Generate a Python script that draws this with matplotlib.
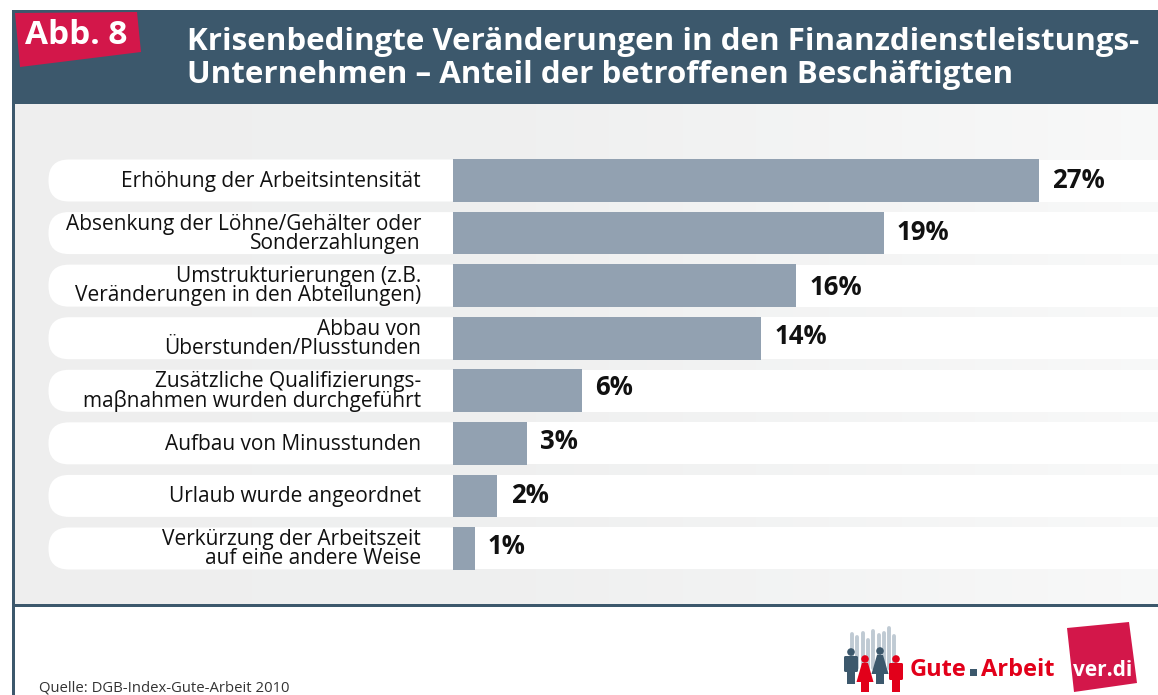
import numpy as np
import matplotlib
matplotlib.use('Agg')
import matplotlib.pyplot as plt
from matplotlib.patches import Polygon, Rectangle, FancyBboxPatch, Circle

plt.rcParams['font.family'] = ['Open Sans', 'DejaVu Sans']

# data
categories = [
    'Erhöhung der Arbeitsintensität',
    'Absenkung der Löhne/Gehälter oder\nSonderzahlungen',
    'Umstrukturierungen (z.B.\nVeränderungen in den Abteilungen)',
    'Abbau von\nÜberstunden/Plusstunden',
    'Zusätzliche Qualifizierungs-\nmaβnahmen wurden durchgeführt',
    'Aufbau von Minusstunden',
    'Urlaub wurde angeordnet',
    'Verkürzung der Arbeitszeit\nauf eine andere Weise',
]
# bar lengths as measured, the printed labels are rounded differently
bar_values = [27, 19.85, 15.8, 14.2, 5.95, 3.4, 2.05, 1.0]
value_labels = ['27%', '19%', '16%', '14%', '6%', '3%', '2%', '1%']
title_lines = ['Krisenbedingte Veränderungen in den Finanzdienstleistungs-',
               'Unternehmen – Anteil der betroffenen Beschäftigten']
badge = 'Abb. 8'
source = 'Quelle: DGB-Index-Gute-Arbeit 2010'

# the printed value labels do not sit exactly on the row centres
label_nudge = [0, -1, 2, -2, -3, -2, 0, -2]

HEADER = '#3c586c'
CRIMSON = '#d3174a'
BAR = '#92a1b1'
LOGO_RED = '#e2001a'

W, H = 1158, 695
fig = plt.figure(figsize=(W / 100, H / 100), dpi=100, facecolor='white')

# overlay in pixel coordinates for the frame, header and logos
bg = fig.add_axes([0, 0, 1, 1], zorder=1)

# panel gets lighter to the right
grey = np.interp(np.arange(12, W), [12, 500, W], [238, 239, 248]) / 255
panel = np.clip(np.dstack([grey, grey + 0.002, grey + 0.002]), 0, 1)
bg.imshow(panel, extent=(12, W, 605, 104), aspect='auto', interpolation='bilinear', zorder=0)
bg.set_xlim(0, W)
bg.set_ylim(H, 0)
bg.axis('off')

bg.add_patch(Rectangle((12, 10), W - 12, 94, color=HEADER, lw=0))
bg.add_patch(Rectangle((12, 10), 2.5, H - 10, color=HEADER, lw=0))
bg.add_patch(Rectangle((12, 604), W - 12, 2.5, color=HEADER, lw=0))

bg.add_patch(Polygon([(15, 13), (137, 12), (141, 52), (20, 67)], color=CRIMSON, lw=0))
bg.text(76, 44.5, badge, color='white', fontsize=24, fontweight='bold', ha='center', va='baseline')
for y, line in zip([50, 83.5], title_lines):
    bg.text(187, y, line, color='white', fontsize=22.5, fontweight='bold', ha='left', va='baseline')

# bars: x scale 21.7 px per percent starting at 453 px, rows 52.57 px apart
n = len(categories)
row = 52.57
top = 180.5 - row / 2
ax = fig.add_axes([453 / W, 1 - (top + n * row) / H, (W - 453) / W, n * row / H], zorder=2)
ax.set_xlim(0, (W - 453) / 21.7)
ax.set_ylim(n - 0.5, -0.5)
ax.axis('off')
ax.patch.set_alpha(0)
ypos = np.arange(n)
ax.barh(ypos, bar_values, height=0.81, color=BAR, lw=0, zorder=3)

for i, (v, lab) in enumerate(zip(bar_values, value_labels)):
    ax.annotate(lab, (v, i), xytext=(9.5, -label_nudge[i] * 0.72), textcoords='offset points', fontsize=18.5,
                fontweight='bold', color='#111111', ha='left', va='center', zorder=4)

for i, cat in enumerate(categories):
    yc = 180.5 + i * row
    # white row, rounded on the left
    bg.add_patch(FancyBboxPatch((69, yc - 0.5), 381, 1,
                                boxstyle='round,pad=20.5,rounding_size=20.5', color='white', lw=0))
    bg.add_patch(Rectangle((453, yc - 21), W - 453, 42, color='white', lw=0))
    bg.text(421, yc + 0.7, cat, fontsize=15, color='#111111', ha='right', va='center',
            multialignment='right', linespacing=0.89)

# source
bg.text(39, 688, source, fontsize=10.7, color='#333333', ha='left', va='center')

# Gute Arbeit logo
for x, y0 in zip([852, 857, 863, 868, 873, 879, 884, 889, 894],
                 [634, 637, 633, 640, 631, 635, 633, 628, 636]):
    bg.plot([x, x], [y0, 668], color='#bfcad3', lw=2.8, solid_capstyle='round', zorder=2)


def person(cx, cy, color, skirt, leg_end):
    bg.add_patch(Circle((cx, cy), 3.8, color=color, lw=0, zorder=3))
    if skirt:
        bg.add_patch(Polygon([(cx - 3, cy + 4), (cx + 3, cy + 4), (cx + 8.5, leg_end - 10), (cx - 8.5, leg_end - 10)],
                             color=color, lw=0, zorder=3))
    else:
        bg.add_patch(FancyBboxPatch((cx - 6, cy + 5), 12, leg_end - cy - 18,
                                    boxstyle='round,pad=1,rounding_size=1.5', color=color, lw=0, zorder=3))
    bg.add_patch(Rectangle((cx - 4, leg_end - 16), 8, 16, color=color, lw=0, zorder=3))


person(851, 652, HEADER, False, 684)
person(865, 659, LOGO_RED, True, 692)
person(880, 651, HEADER, True, 684)
person(896, 659, LOGO_RED, False, 692)
bg.text(910, 675.5, 'Gute', color=LOGO_RED, fontsize=17, fontweight='bold', ha='left', va='baseline')
bg.add_patch(Rectangle((970, 669), 6.5, 7, color=HEADER, lw=0))
bg.text(981, 675.5, 'Arbeit', color=LOGO_RED, fontsize=17, fontweight='bold', ha='left', va='baseline')

# ver.di logo
bg.add_patch(Polygon([(1067, 628), (1129, 622), (1137, 683), (1074, 692)], color=CRIMSON, lw=0))
bg.text(1103, 676, 'ver.di', color='white', fontsize=15, fontweight='bold', ha='center', va='baseline')

fig.savefig('out.png', dpi=100)
